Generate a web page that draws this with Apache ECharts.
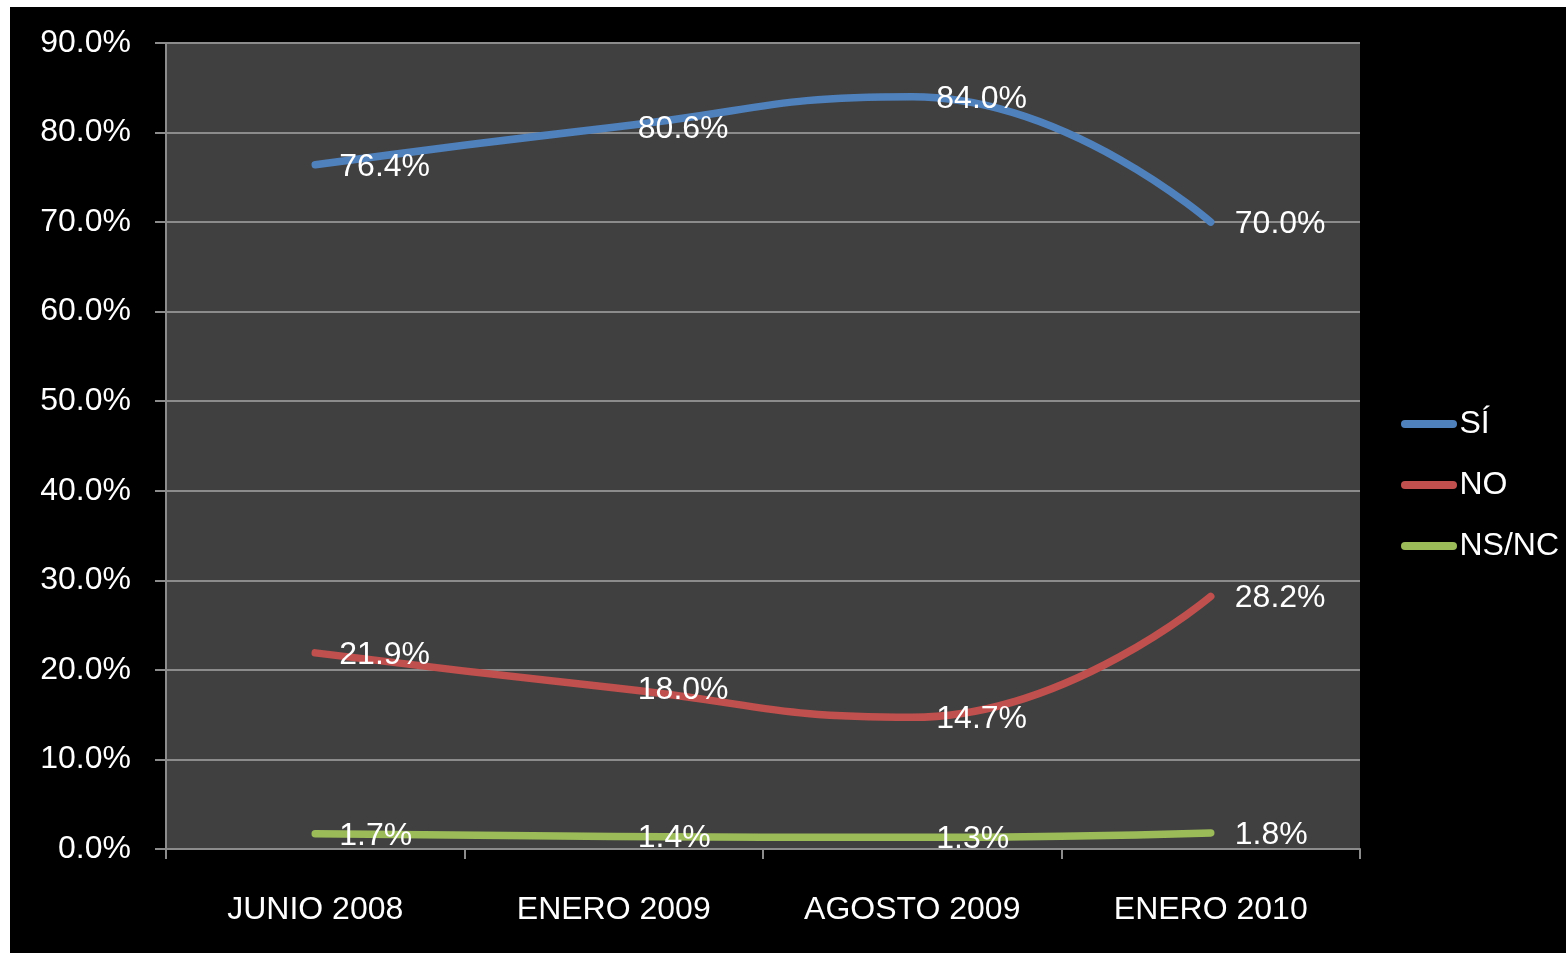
<!DOCTYPE html>
<html>
<head>
<meta charset="utf-8">
<script src="https://cdn.jsdelivr.net/npm/echarts@6/dist/echarts.min.js"></script>
<style>
html,body{margin:0;padding:0;background:#ffffff;width:1566px;height:953px;overflow:hidden;}
#c{position:absolute;left:10px;top:7px;width:1556px;height:946px;}
</style>
</head>
<body>
<div id="c"></div>
<script>
const categories = ['JUNIO 2008', 'ENERO 2009', 'AGOSTO 2009', 'ENERO 2010'];
const si = [76.4, 80.6, 84.0, 70.0];
const no = [21.9, 18.0, 14.7, 28.2];
const nsnc = [1.7, 1.4, 1.3, 1.8];
const seriesNames = ['SÍ', 'NO', 'NS/NC'];
const colors = ['#4F81BD', '#C0504D', '#9BBB59'];

const FONT = 'Liberation Sans';
const FS = 32;
const chart = echarts.init(document.getElementById('c'));

function mk(name, data, color) {
  return {
    name: name,
    type: 'line',
    data: data,
    smooth: 0.5,
    symbol: 'circle',
    symbolSize: 0.1,
    showSymbol: true,
    lineStyle: { color: color, width: 7.5, cap: 'round', join: 'round' },
    itemStyle: { color: color },
    label: {
      show: true,
      position: 'right',
      distance: 24,
      offset: [0, 2],
      color: '#ffffff',
      fontFamily: FONT,
      fontSize: FS,
      formatter: p => p.value.toFixed(1) + '%'
    },
    z: 3
  };
}

const legendIcon = 'path://M4,0 L52,0 A4,4 0 0 1 52,8 L4,8 A4,4 0 0 1 4,0 Z';

chart.setOption({
  backgroundColor: '#000000',
  animation: false,
  color: colors,
  grid: {
    left: 156, right: 206, top: 36, bottom: 104,
    show: true, backgroundColor: '#404040', borderWidth: 0,
    containLabel: false
  },
  legend: {
    orient: 'vertical',
    left: 1386, top: 396,
    itemWidth: 57, itemHeight: 8, itemGap: 29,
    icon: legendIcon,
    textStyle: { color: '#ffffff', fontFamily: FONT, fontSize: FS, padding: [0, 0, 0, -3] },
    data: seriesNames
  },
  xAxis: {
    type: 'category',
    data: categories,
    boundaryGap: true,
    axisLine: { show: true, lineStyle: { color: '#8c8c8c', width: 2 } },
    axisTick: { show: true, length: 10, lineStyle: { color: '#8c8c8c', width: 2 }, alignWithLabel: false },
    axisLabel: { color: '#ffffff', fontFamily: FONT, fontSize: FS, margin: 45 },
    splitLine: { show: false }
  },
  yAxis: {
    type: 'value',
    min: 0, max: 90, interval: 10,
    axisLine: { show: true, lineStyle: { color: '#8c8c8c', width: 2 } },
    axisTick: { show: true, length: 11, lineStyle: { color: '#8c8c8c', width: 2 } },
    axisLabel: { color: '#ffffff', fontFamily: FONT, fontSize: FS, margin: 35, padding: [4, 0, 0, 0], formatter: v => v.toFixed(1) + '%' },
    splitLine: { show: true, lineStyle: { color: '#8c8c8c', width: 2 } }
  },
  series: [
    mk(seriesNames[0], si, colors[0]),
    mk(seriesNames[1], no, colors[1]),
    mk(seriesNames[2], nsnc, colors[2])
  ]
});
</script>
</body>
</html>
